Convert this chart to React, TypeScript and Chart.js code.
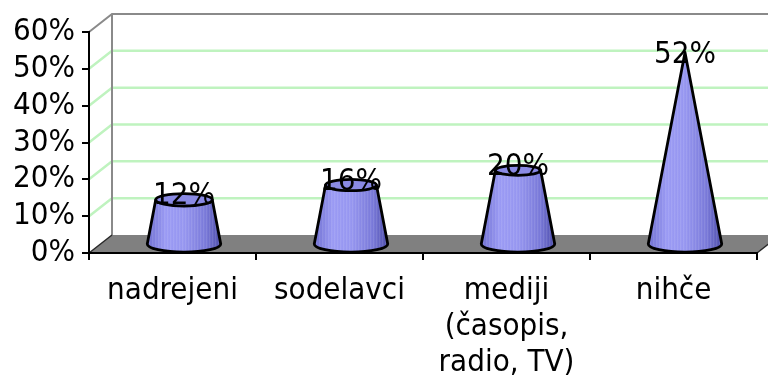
import React, { useEffect, useRef } from "react";
import { Chart, registerables } from "chart.js";

Chart.register(...registerables);

// Survey: who respondents turn to
const categories: (string | string[])[] = [
  "nadrejeni",
  "sodelavci",
  ["mediji", "(časopis,", "radio, TV)"],
  "nihče",
];
const shares = [12, 16, 20, 52];
const yTicks = [0, 10, 20, 30, 40, 50, 60];

const FONT = "'DejaVu Sans Condensed', 'DejaVu Sans', sans-serif";
const FONT_SIZE = 31;
const DX = 23; // depth offset of the back wall
const DY = 18;
const GRID_GREEN = "#bff3bf";
const WALL_GRAY = "#8a8a8a";

function bodyPath(ctx: CanvasRenderingContext2D, cx: number, baseY: number, topY: number, r0: number, rt: number, ry0: number) {
  ctx.beginPath();
  ctx.moveTo(cx - r0, baseY);
  ctx.lineTo(cx - rt, topY);
  ctx.lineTo(cx + rt, topY);
  ctx.lineTo(cx + r0, baseY);
  ctx.ellipse(cx, baseY, r0, ry0, 0, 0, Math.PI, false);
  ctx.closePath();
}

const threeD = {
  id: "threeD",
  beforeDraw(chart: any) {
    const { ctx, chartArea: a, scales } = chart;
    const y = scales.y;
    const W = chart.width;
    ctx.save();
    ctx.lineWidth = 2.5;
    // gridlines on the side and back walls
    ctx.strokeStyle = GRID_GREEN;
    for (const t of y.ticks) {
      if (t.value === y.min || t.value === y.max) continue;
      const py = y.getPixelForValue(t.value);
      ctx.beginPath();
      ctx.moveTo(a.left, py);
      ctx.lineTo(a.left + DX, py - DY);
      ctx.lineTo(W, py - DY);
      ctx.stroke();
    }
    // wall outlines
    ctx.lineWidth = 2;
    ctx.strokeStyle = WALL_GRAY;
    ctx.beginPath();
    ctx.moveTo(a.left, a.top);
    ctx.lineTo(a.left + DX, a.top - DY);
    ctx.lineTo(W, a.top - DY);
    ctx.moveTo(a.left + DX, a.top - DY);
    ctx.lineTo(a.left + DX, a.bottom - DY);
    ctx.stroke();
    // floor
    ctx.fillStyle = "#808080";
    ctx.beginPath();
    ctx.moveTo(a.left, a.bottom);
    ctx.lineTo(a.right, a.bottom);
    ctx.lineTo(a.right + DX, a.bottom - DY);
    ctx.lineTo(a.left + DX, a.bottom - DY);
    ctx.closePath();
    ctx.fill();
    ctx.strokeStyle = "#2a2a2a";
    ctx.lineWidth = 1.5;
    ctx.beginPath();
    ctx.moveTo(a.left, a.bottom);
    ctx.lineTo(a.left + DX, a.bottom - DY);
    ctx.moveTo(a.right, a.bottom);
    ctx.lineTo(a.right + DX, a.bottom - DY);
    ctx.stroke();
    ctx.restore();
  },
  afterDatasetsDraw(chart: any) {
    const { ctx, scales } = chart;
    const y = scales.y;
    const meta = chart.getDatasetMeta(0);
    const peak = Math.max(...shares);
    const baseY = y.getPixelForValue(0) - DY / 2;
    const apexY = y.getPixelForValue(peak) - DY / 2;
    const k = 0.22; // ellipse flattening
    ctx.save();
    ctx.lineJoin = "round";
    meta.data.forEach((bar: any, i: number) => {
      const r0 = bar.width / 2;
      const cx = bar.x + DX / 2;
      const topY = bar.y - DY / 2;
      const rt = (r0 * (topY - apexY)) / (baseY - apexY);
      const ry0 = r0 * k;
      const ryt = rt * k;

      // body fill with side shading
      bodyPath(ctx, cx, baseY, topY, r0, rt, ry0);
      const g = ctx.createLinearGradient(cx - r0, 0, cx + r0, 0);
      g.addColorStop(0, "#6e6ed0");
      g.addColorStop(0.25, "#9a9af4");
      g.addColorStop(0.5, "#9696f0");
      g.addColorStop(0.8, "#7878d8");
      g.addColorStop(1, "#4c4caa");
      ctx.fillStyle = g;
      ctx.fill();

      // faint vertical striations
      ctx.save();
      ctx.clip();
      ctx.lineWidth = 1;
      ctx.strokeStyle = "rgba(255,255,255,0.14)";
      for (let x = cx - r0 + 2; x < cx + r0; x += 3) {
        ctx.beginPath();
        ctx.moveTo(x + 0.5, topY - ryt);
        ctx.lineTo(x + 0.5, baseY + ry0);
        ctx.stroke();
      }
      ctx.restore();

      // outline
      bodyPath(ctx, cx, baseY, topY, r0, rt, ry0);
      ctx.lineWidth = 2.8;
      ctx.strokeStyle = "#000";
      ctx.stroke();

      // top cap
      if (rt > 0.5) {
        ctx.beginPath();
        ctx.ellipse(cx, topY, rt, ryt, 0, 0, Math.PI * 2);
        ctx.fillStyle = "#8a8ae4";
        ctx.fill();
        ctx.stroke();
      }

      // value label
      ctx.fillStyle = "#000";
      ctx.font = `${FONT_SIZE}px ${FONT}`;
      ctx.textAlign = "center";
      ctx.textBaseline = "middle";
      ctx.fillText(`${shares[i]}%`, cx, topY - ryt + 2);
    });
    ctx.restore();
  },
};

export default function App() {
  const ref = useRef<HTMLCanvasElement | null>(null);

  useEffect(() => {
    document.body.style.margin = "0";
    const canvas = ref.current;
    if (!canvas) return;
    const chart = new Chart(canvas, {
      type: "bar",
      data: {
        labels: categories,
        datasets: [
          {
            data: shares,
            backgroundColor: "rgba(0,0,0,0)",
            borderWidth: 0,
            categoryPercentage: 1,
            barPercentage: 0.44,
          },
        ],
      },
      options: {
        responsive: false,
        animation: false,
        devicePixelRatio: 1,
        layout: { padding: { top: 32, right: 11, left: 0, bottom: 0 } },
        plugins: {
          legend: { display: false },
          tooltip: { enabled: false },
          title: { display: false },
        },
        scales: {
          x: {
            grid: {
              offset: true,
              drawOnChartArea: false,
              drawTicks: true,
              tickLength: 7,
              color: "#000",
              lineWidth: 2,
            },
            border: { display: true, color: "#000", width: 2 },
            ticks: {
              color: "#000",
              padding: 13,
              maxRotation: 0,
              autoSkip: false,
              font: { family: FONT, size: FONT_SIZE, lineHeight: "36px" },
            },
            afterFit(scale: any) {
              scale.height = 129;
            },
          },
          y: {
            min: 0,
            max: 60,
            afterBuildTicks(scale: any) {
              scale.ticks = yTicks.map((v) => ({ value: v }));
            },
            grid: {
              drawOnChartArea: false,
              drawTicks: true,
              tickLength: 7,
              color: "#000",
              lineWidth: 2,
            },
            border: { display: true, color: "#000", width: 2 },
            ticks: {
              color: "#000",
              padding: 7,
              autoSkip: false,
              font: { family: FONT, size: FONT_SIZE, lineHeight: 1 },
              callback: (v: any) => `${v}%`,
            },
            afterFit(scale: any) {
              scale.width = 89;
            },
          },
        },
      },
      plugins: [threeD],
    });
    return () => chart.destroy();
  }, []);

  return (
    <div style={{ position: "absolute", left: 0, top: 0, width: 768, height: 382, background: "#fff" }}>
      <canvas ref={ref} width={768} height={382} style={{ width: 768, height: 382, display: "block" }} />
    </div>
  );
}
